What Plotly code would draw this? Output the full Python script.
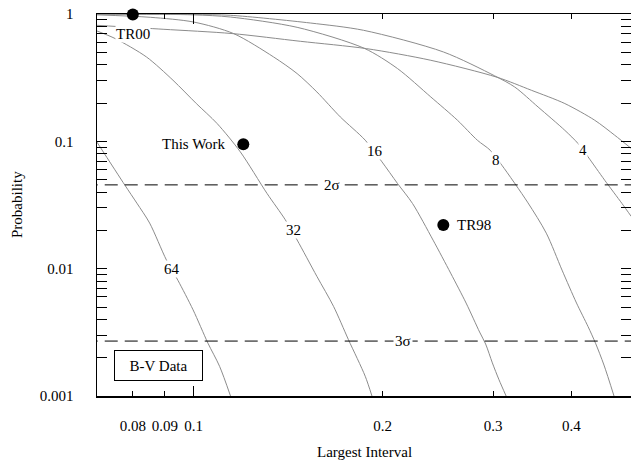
import numpy as np
import plotly.graph_objects as go

# ---------------- data ----------------
# curves: probability vs largest interval for several N
x4 = [0.0701, 0.100, 0.1144, 0.1534, 0.1865, 0.2502, 0.3018, 0.3249, 0.3540, 0.3905, 0.4100, 0.4252, 0.4520, 0.4816, 0.4983]
p4 = [0.998, 0.990, 0.977, 0.850, 0.745, 0.503, 0.327, 0.267, 0.186, 0.122, 0.096, 0.0755, 0.0495, 0.0325, 0.0257]

x8 = [0.0701, 0.100, 0.1144, 0.1462, 0.1870, 0.2113, 0.2388, 0.2633, 0.2833, 0.2969, 0.3099, 0.3405, 0.3648, 0.3865, 0.4076, 0.4252, 0.4370, 0.4508, 0.4677]
p8 = [0.996, 0.985, 0.947, 0.786, 0.538, 0.373, 0.223, 0.1465, 0.102, 0.0852, 0.065, 0.0333, 0.019, 0.00974, 0.00537, 0.00351, 0.0026, 0.00175, 0.001]

x16 = [0.0701, 0.0853, 0.100, 0.1158, 0.1341, 0.1462, 0.1572, 0.1713, 0.1877, 0.1996, 0.2113, 0.2233, 0.2408, 0.2568, 0.2718, 0.2856, 0.2920, 0.2993, 0.3067, 0.3148]
p16 = [0.985, 0.942, 0.865, 0.702, 0.460, 0.3405, 0.2443, 0.1555, 0.1021, 0.069, 0.0467, 0.0325, 0.01675, 0.00923, 0.00537, 0.00318, 0.00256, 0.00182, 0.00134, 0.001]

x32 = [0.0701, 0.0750, 0.0841, 0.0927, 0.1010, 0.1090, 0.1187, 0.1309, 0.1400, 0.1462, 0.1572, 0.1671, 0.1765, 0.1877, 0.1924]
p32 = [0.736, 0.641, 0.460, 0.302, 0.198, 0.138, 0.0826, 0.0390, 0.0242, 0.0168, 0.0087, 0.00506, 0.00277, 0.00143, 0.001]

x64 = [0.0701, 0.0777, 0.0812, 0.0851, 0.0905, 0.0944, 0.0998, 0.1054, 0.1100, 0.1145]
p64 = [0.099, 0.0453, 0.0327, 0.0228, 0.0117, 0.0081, 0.00475, 0.0026, 0.00171, 0.001]

xB = [0.0701, 0.0894, 0.1152, 0.1479, 0.1884, 0.2388, 0.3045, 0.3453, 0.3905, 0.4357, 0.4689, 0.4983]
pB = [0.815, 0.759, 0.702, 0.6105, 0.535, 0.433, 0.3186, 0.2519, 0.198, 0.1465, 0.1117, 0.0879]

curve_labels = ["4", "8", "16", "32", "64"]
curve_label_x = [0.4174, 0.3031, 0.1948, 0.1443, 0.0924]
curve_label_p = [0.0852, 0.0720, 0.0841, 0.0201, 0.00987]

# observations
obs_names = ["TR00", "This Work", "TR98"]
obs_x = [0.080, 0.120, 0.250]
obs_p = [0.99, 0.095, 0.022]

# significance levels
sig_levels = [0.0455, 0.0027]
sig_labels = ["2σ", "3σ"]
sig_label_x = [0.1661, 0.2160]

x_ticks = [0.08, 0.09, 0.1, 0.2, 0.3, 0.4]
x_ticktext = ["0.08", "0.09", "0.1", "0.2", "0.3", "0.4"]
y_ticks = [0.001, 0.01, 0.1, 1]
y_ticktext = ["0.001", "0.01", "0.1", "1"]
x_range = [0.07015, 0.4978]

# ---------------- figure ----------------
FONT = "Liberation Serif, Times New Roman, serif"
F = dict(family=FONT, size=15, color="black")
fig = go.Figure()

for xs, ps in [(x4, p4), (x8, p8), (x16, p16), (x32, p32), (x64, p64), (xB, pB)]:
    fig.add_trace(go.Scatter(x=xs, y=ps, mode="lines",
                             line=dict(color="#8c8c8c", width=1, shape="spline", smoothing=0.8),
                             hoverinfo="skip", showlegend=False))

for lv in sig_levels:
    fig.add_trace(go.Scatter(x=[0.05, 0.6], y=[lv, lv], mode="lines",
                             line=dict(color="black", width=1, dash="13px,7px"),
                             hoverinfo="skip", showlegend=False))

fig.add_trace(go.Scatter(x=obs_x, y=obs_p, mode="markers",
                         marker=dict(color="black", size=12, line=dict(width=0)), cliponaxis=False,
                         hoverinfo="skip", showlegend=False))

# overlay axis used only for the long tick at 0.1
fig.add_trace(go.Scatter(x=[0.1], y=[0.5], xaxis="x2", mode="markers",
                         marker=dict(opacity=0), hoverinfo="skip", showlegend=False))

lr = [np.log10(x_range[0]), np.log10(x_range[1])]

fig.update_layout(
    template="none",
    width=631, height=462,
    margin=dict(l=97, r=0, t=14, b=66),
    plot_bgcolor="white", paper_bgcolor="white",
    font=F,
    showlegend=False,
    xaxis=dict(type="log", range=lr, tickmode="array", tickvals=x_ticks, ticktext=x_ticktext,
               ticks="inside", ticklen=5, tickwidth=1, tickcolor="black", tickfont=F,
               showline=True, linecolor="black", linewidth=1.5, mirror="allticks",
               showgrid=False, zeroline=False, ticklabelstandoff=15),
    xaxis2=dict(type="log", range=lr, overlaying="x", anchor="y", side="bottom",
                tickmode="array", tickvals=[0.1], ticks="inside", ticklen=10, tickwidth=1,
                tickcolor="black", showticklabels=False, mirror="ticks",
                showline=False, showgrid=False, zeroline=False),
    yaxis=dict(type="log", range=[-3, 0], tickmode="array", tickvals=y_ticks, ticktext=y_ticktext,
               ticks="inside", ticklen=10, tickwidth=1, tickcolor="black", tickfont=F,
               minor=dict(ticks="inside", ticklen=5, dtick="D1", tickcolor="black", showgrid=False),
               showline=True, linecolor="black", linewidth=1.5, mirror="allticks",
               showgrid=False, zeroline=False, ticklabelstandoff=19),
)

ann = []
for t, lx, lp in zip(curve_labels, curve_label_x, curve_label_p):
    ann.append(dict(x=np.log10(lx), y=np.log10(lp), xref="x", yref="y", text=t, showarrow=False,
                    bgcolor="white", borderpad=0, font=F))
for t, lx, lv in zip(sig_labels, sig_label_x, sig_levels):
    ann.append(dict(x=np.log10(lx), y=np.log10(lv), xref="x", yref="y", text=t, showarrow=False,
                    bgcolor="white", borderpad=1, font=F))
# observation labels
ann.append(dict(x=np.log10(obs_x[0]), y=np.log10(obs_p[0]), xref="x", yref="y", text=obs_names[0],
                showarrow=False, xanchor="center", yanchor="middle", yshift=-19,
                bgcolor="white", borderpad=0, font=F))
ann.append(dict(x=np.log10(obs_x[1]), y=np.log10(obs_p[1]), xref="x", yref="y", text=obs_names[1],
                showarrow=False, xanchor="right", yanchor="middle", xshift=-15, font=F))
ann.append(dict(x=np.log10(obs_x[2]), y=np.log10(obs_p[2]), xref="x", yref="y", text=obs_names[2],
                showarrow=False, xanchor="left", yanchor="middle", xshift=12, font=F))
# B-V Data box
ann.append(dict(x=0.1156, y=0.080, xref="paper", yref="paper", text="B-V Data", showarrow=False,
                width=85, height=27, bordercolor="black", borderwidth=1, borderpad=1,
                bgcolor="white", xanchor="center", yanchor="middle", font=F))
# axis titles
ann.append(dict(x=0.5, y=-0.1466, xref="paper", yref="paper", text="Largest Interval",
                showarrow=False, xanchor="center", yanchor="middle", font=F))
ann.append(dict(x=-0.1498, y=0.5, xref="paper", yref="paper", text="Probability",
                showarrow=False, textangle=-90, xanchor="center", yanchor="middle", font=F))
fig.update_layout(annotations=ann)

fig.write_html("out.html", config={"displayModeBar": False, "staticPlot": True},
               post_script="document.body.style.margin='0';document.body.style.padding='0';"
                           "document.documentElement.style.overflow='hidden';")
